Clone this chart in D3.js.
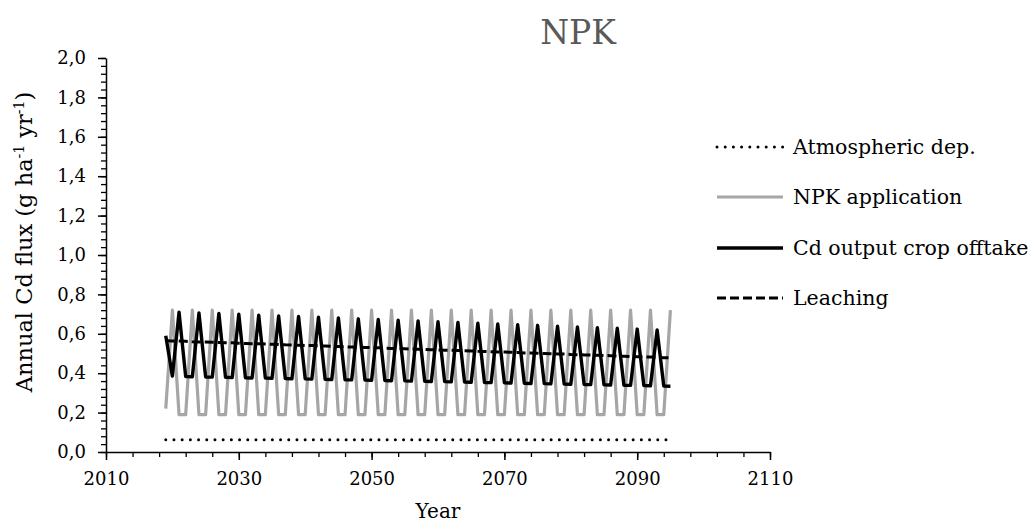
<!DOCTYPE html>
<html>
<head>
<meta charset="utf-8">
<script src="https://cdn.jsdelivr.net/npm/d3@7"></script>
<style>
  body { margin: 0; background: #fff; }
  svg { display: block; font-family: "DejaVu Serif", "Liberation Serif", serif; }
</style>
</head>
<body>
<svg id="chart" width="1034" height="532"></svg>
<script>
const years = [2019,2020,2021,2022,2023,2024,2025,2026,2027,2028,2029,2030,2031,2032,2033,2034,2035,2036,2037,2038,2039,2040,2041,2042,2043,2044,2045,2046,2047,2048,2049,2050,2051,2052,2053,2054,2055,2056,2057,2058,2059,2060,2061,2062,2063,2064,2065,2066,2067,2068,2069,2070,2071,2072,2073,2074,2075,2076,2077,2078,2079,2080,2081,2082,2083,2084,2085,2086,2087,2088,2089,2090,2091,2092,2093,2094,2095];

const atmosphericDep = [0.062,0.062,0.062,0.062,0.062,0.062,0.062,0.062,0.062,0.062,0.062,0.062,0.062,0.062,0.062,0.062,0.062,0.062,0.062,0.062,0.062,0.062,0.062,0.062,0.062,0.062,0.062,0.062,0.062,0.062,0.062,0.062,0.062,0.062,0.062,0.062,0.062,0.062,0.062,0.062,0.062,0.062,0.062,0.062,0.062,0.062,0.062,0.062,0.062,0.062,0.062,0.062,0.062,0.062,0.062,0.062,0.062,0.062,0.062,0.062,0.062,0.062,0.062,0.062,0.062,0.062,0.062,0.062,0.062,0.062,0.062,0.062,0.062,0.062,0.062,0.062,0.062];

const npkApplication = [0.22,
  0.72,0.19,0.19, 0.72,0.19,0.19, 0.72,0.19,0.19, 0.72,0.19,0.19, 0.72,0.19,0.19,
  0.72,0.19,0.19, 0.72,0.19,0.19, 0.72,0.19,0.19, 0.72,0.19,0.19, 0.72,0.19,0.19,
  0.72,0.19,0.19, 0.72,0.19,0.19, 0.72,0.19,0.19, 0.72,0.19,0.19, 0.72,0.19,0.19,
  0.72,0.19,0.19, 0.72,0.19,0.19, 0.72,0.19,0.19, 0.72,0.19,0.19, 0.72,0.19,0.19,
  0.72,0.19,0.19, 0.72,0.19,0.19, 0.72,0.19,0.19, 0.72,0.19,0.19, 0.72,0.19,0.19,
  0.72];

const cropOfftake = [0.59, 0.385,
  0.710,0.383,0.382, 0.706,0.381,0.380, 0.703,0.379,0.378, 0.699,0.377,0.376, 0.695,0.375,0.374,
  0.691,0.373,0.372, 0.688,0.371,0.370, 0.684,0.369,0.368, 0.680,0.367,0.366, 0.676,0.365,0.364,
  0.673,0.363,0.362, 0.669,0.361,0.360, 0.665,0.359,0.358, 0.661,0.357,0.356, 0.658,0.355,0.354,
  0.654,0.353,0.352, 0.650,0.351,0.350, 0.646,0.349,0.348, 0.643,0.347,0.346, 0.639,0.345,0.344,
  0.635,0.343,0.342, 0.631,0.341,0.340, 0.628,0.339,0.338, 0.624,0.337,0.336, 0.620,0.335,0.334];

const leaching = [0.565,0.564,0.563,0.562,0.560,0.559,0.558,0.557,0.556,0.555,0.554,0.552,0.551,0.550,0.549,0.548,0.547,0.546,0.544,0.543,0.542,0.541,0.540,0.539,0.538,0.536,0.535,0.534,0.533,0.532,0.531,0.530,0.529,0.527,0.526,0.525,0.524,0.523,0.522,0.521,0.519,0.518,0.517,0.516,0.515,0.514,0.513,0.511,0.510,0.509,0.508,0.507,0.506,0.505,0.503,0.502,0.501,0.500,0.499,0.498,0.497,0.495,0.494,0.493,0.492,0.491,0.490,0.489,0.487,0.486,0.485,0.484,0.483,0.482,0.481,0.479,0.478];

const xTickValues = [2010,2030,2050,2070,2090,2110];
const xMinorTickValues = [2010,2014,2018,2022,2026,2030,2034,2038,2042,2046,2050,2054,2058,2062,2066,2070,2074,2078,2082,2086,2090,2094,2098,2102,2106,2110];
const yTickValues = [0,0.2,0.4,0.6,0.8,1.0,1.2,1.4,1.6,1.8,2.0];
const yMinorTickValues = [0,0.04,0.08,0.12,0.16,0.2,0.24,0.28,0.32,0.36,0.4,0.44,0.48,0.52,0.56,0.6,0.64,0.68,0.72,0.76,0.8,0.84,0.88,0.92,0.96,1.0,1.04,1.08,1.12,1.16,1.2,1.24,1.28,1.32,1.36,1.4,1.44,1.48,1.52,1.56,1.6,1.64,1.68,1.72,1.76,1.8,1.84,1.88,1.92,1.96,2.0];

const seriesNames = ["Atmospheric dep.", "NPK application", "Cd output crop offtake", "Leaching"];

const svg = d3.select("#chart");
const x = d3.scaleLinear().domain([2010, 2110]).range([106, 770]);
const y = d3.scaleLinear().domain([0, 2]).range([452, 58]);
const fmt = v => d3.format(".1f")(v).replace(".", ",");
const fs = 18;

// Minor ticks
svg.append("g").attr("transform", `translate(0,${y(0)})`)
  .call(d3.axisBottom(x).tickValues(xMinorTickValues).tickSize(5).tickFormat(""))
  .call(g => g.select(".domain").remove())
  .selectAll("line").attr("stroke", "#000").attr("stroke-width", 1.3);
svg.append("g").attr("transform", `translate(${x(2010)},0)`)
  .call(d3.axisLeft(y).tickValues(yMinorTickValues).tickSize(5).tickFormat(""))
  .call(g => g.select(".domain").remove())
  .selectAll("line").attr("stroke", "#000").attr("stroke-width", 1.3);

// Major axes
const xAxis = svg.append("g").attr("transform", `translate(0,${y(0)})`)
  .call(d3.axisBottom(x).tickValues(xTickValues).tickSize(8).tickSizeOuter(0).tickPadding(12).tickFormat(d3.format("d")));
xAxis.select(".domain").attr("stroke", "#000").attr("stroke-width", 1.5);
xAxis.selectAll("line").attr("stroke", "#000").attr("stroke-width", 1.5);
xAxis.selectAll("text").attr("font-size", fs).attr("font-family", "DejaVu Serif").attr("fill", "#000");

const yAxis = svg.append("g").attr("transform", `translate(${x(2010)},0)`)
  .call(d3.axisLeft(y).tickValues(yTickValues).tickSize(8).tickSizeOuter(0).tickPadding(12).tickFormat(fmt));
yAxis.select(".domain").attr("stroke", "#000").attr("stroke-width", 1.5);
yAxis.selectAll("line").attr("stroke", "#000").attr("stroke-width", 1.5);
yAxis.selectAll("text").attr("font-size", fs).attr("font-family", "DejaVu Serif").attr("fill", "#000");

// Series
const line = vals => d3.line().x((d, i) => x(years[i])).y(d => y(d))(vals);
const styles = [
  { data: atmosphericDep, stroke: "#000", width: 3, dash: "0 8.2", cap: "round" },
  { data: npkApplication, stroke: "#a6a6a6", width: 3.2, dash: null, cap: "butt" },
  { data: cropOfftake, stroke: "#000", width: 3.4, dash: null, cap: "butt" },
  { data: leaching, stroke: "#000", width: 3, dash: "9 4", cap: "butt" }
];
styles.forEach(s => {
  svg.append("path").attr("d", line(s.data)).attr("fill", "none")
    .attr("stroke", s.stroke).attr("stroke-width", s.width)
    .attr("stroke-linecap", s.cap).attr("stroke-linejoin", "round")
    .attr("stroke-dasharray", s.dash);
});

// Legend
const legendY = [147, 197, 248, 298];
seriesNames.forEach((name, i) => {
  const s = styles[i];
  svg.append("line").attr("x1", 717).attr("x2", 783).attr("y1", legendY[i]).attr("y2", legendY[i])
    .attr("stroke", s.stroke).attr("stroke-width", s.width)
    .attr("stroke-linecap", s.cap).attr("stroke-dasharray", s.dash);
  svg.append("text").attr("x", 793).attr("y", legendY[i]).attr("dy", "0.35em")
    .attr("font-size", 20.5).attr("fill", "#000").text(name);
});

// Title
svg.append("text").attr("x", 578).attr("y", 44).attr("text-anchor", "middle")
  .attr("font-size", 33).attr("fill", "#595959").text("NPK");

// Axis titles
svg.append("text").attr("x", 438).attr("y", 518).attr("text-anchor", "middle")
  .attr("font-size", 20).attr("fill", "#000").text("Year");

const yt = svg.append("text").attr("transform", `translate(32,242) rotate(-90)`)
  .attr("text-anchor", "middle").attr("font-size", 22.5).attr("fill", "#000");
yt.append("tspan").text("Annual Cd flux (g ha");
yt.append("tspan").attr("dy", -8).attr("font-size", 14).text("-1");
yt.append("tspan").attr("dy", 8).text(" yr");
yt.append("tspan").attr("dy", -8).attr("font-size", 14).text("-1");
yt.append("tspan").attr("dy", 8).text(")");
</script>
</body>
</html>
